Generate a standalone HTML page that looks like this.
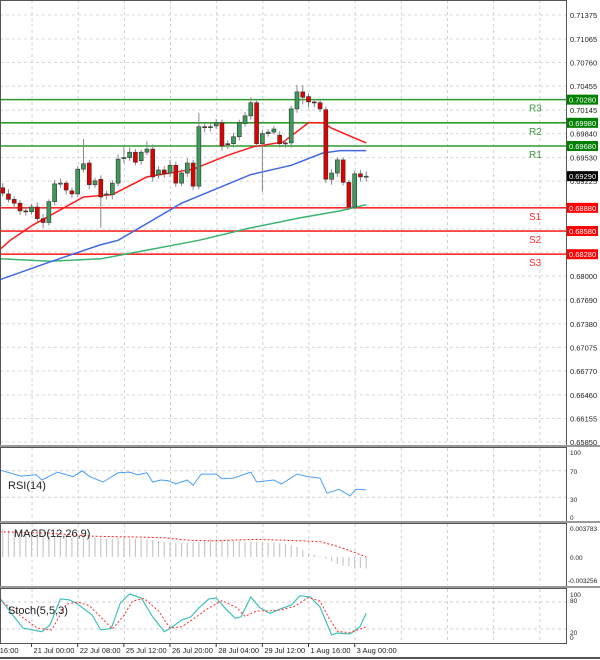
<!DOCTYPE html>
<html><head><meta charset="utf-8"><style>
html,body{margin:0;padding:0;background:#fff}
svg{display:block;font-family:"Liberation Sans",sans-serif}
</style></head><body>
<svg id="c" width="600" height="660" xmlns="http://www.w3.org/2000/svg"></svg>
<script>
const opens=[.6914,.6906,.6899,.6894,.6884,.6883,.6889,.6874,.6869,.6896,.6919,.6920,.6910,.6906,.6938,.6946,.6918,.6925,.6905,.6905,.6920,.6952,.6953,.6960,.6949,.6960,.6964,.6931,.6937,.6933,.6943,.6920,.6933,.6946,.6916,.6993,.6992,.6994,.6998,.6971,.6971,.6980,.6997,.7007,.7024,.6971,.6984,.6986,.6982,.6972,.6972,.7016,.7038,.7032,.7025,.7024,.7015,.6925,.6933,.6950,.6921,.6889,.6932,.6929];
const closes=[.6907,.6899,.6894,.6884,.6883,.6889,.6874,.6869,.6896,.6919,.6920,.6911,.6906,.6938,.6945,.6918,.6923,.6902,.6906,.6920,.6951,.6953,.6960,.6947,.6960,.6964,.6928,.6937,.6932,.6943,.6920,.6933,.6946,.6916,.6993,.6992,.6993,.6998,.6968,.6970,.6980,.6998,.7007,.7024,.6971,.6984,.6986,.6990,.6971,.6971,.7016,.7038,.7031,.7025,.7024,.7016,.6925,.6933,.6950,.6921,.6889,.6932,.6928,.6929];
const highs=[.6920,.6912,.6903,.6898,.6889,.6893,.6895,.6880,.6899,.6924,.6926,.6923,.6914,.6942,.6977,.6950,.6927,.6930,.6910,.6924,.6957,.6967,.6966,.6964,.6963,.6974,.6970,.6942,.6942,.6950,.6948,.6938,.6952,.6950,.7011,.6998,.6998,.7003,.7002,.6975,.6985,.7002,.7012,.7031,.7028,.6989,.6990,.6994,.6987,.6976,.7020,.7047,.7047,.7036,.7029,.7028,.7019,.6938,.6953,.6953,.6924,.6936,.6937,.6935];
const lows=[.6903,.6895,.6888,.6879,.6878,.6879,.6870,.6862,.6865,.6892,.6914,.6905,.6901,.6902,.6934,.6912,.6914,.6862,.6899,.6899,.6916,.6946,.6949,.6943,.6944,.6956,.6922,.6926,.6927,.6928,.6915,.6916,.6928,.6911,.6912,.6986,.6987,.6990,.6962,.6964,.6966,.6975,.6993,.7002,.6966,.6909,.6980,.6983,.6966,.6966,.6966,.7011,.7022,.7018,.7018,.7012,.6920,.6918,.6928,.6917,.6885,.6886,.6922,.6922];
const maRedIdx=[-0.5,1.3,5.3,14,19,25,33,39,43.4,48.6,53,55.5,57,63];
const maRedVal=[.6834,.6846,.6866,.6902,.6905,.6928,.6938,.6956,.6967,.6973,.6998,.6998,.6991,.6972];
const maBlueIdx=[-0.5,8.2,16.9,20,31,43,50,55.5,58.5,63];
const maBlueVal=[.6795,.6818,.6840,.6846,.6894,.6931,.6943,.6959,.6962,.6962];
const maGreenIdx=[-0.5,8.2,17,25.5,34,43,51.5,58.5,63];
const maGreenVal=[.6822,.6819,.6822,.6834,.6846,.6862,.6875,.6884,.6892];
const levelNames=["R3","R2","R1","S1","S2","S3"];
const levelVals=[.7028,.6998,.6968,.6888,.6858,.6828];
const levelLabels=["0.70280","0.69980","0.69680","0.68880","0.68580","0.68280"];
const priceTicks=[.71375,.71065,.70760,.70455,.70145,.69840,.69530,.69225,.68915,.68610,.68305,.68000,.67690,.67380,.67075,.66770,.66460,.66155,.65850];
const priceTickLabels=["0.71375","0.71065","0.70760","0.70455","0.70145","0.69840","0.69530","0.69225","0.68915","0.68610","0.68305","0.68000","0.67690","0.67380","0.67075","0.66770","0.66460","0.66155","0.65850"];
const timeLabels=["21 Jul 00:00","22 Jul 08:00","25 Jul 12:00","26 Jul 20:00","28 Jul 04:00","29 Jul 12:00","1 Aug 16:00","3 Aug 00:00"];
const timeIdx=[5,13,21,29,37,45,53,61];
const rsiIdx=[-0.5,3.2,5.8,6.8,9.5,12.2,13.8,15.1,17.4,20,22,23.4,25,26,27.4,28.7,30,32,33,34.4,37,38,40,43,44,47,48.3,51,53,55,56.2,58.3,60.2,61.2,63];
const rsiVal=[71,62,64,56,68,61,70,61,53,67,68,64,67,53,56,55,50,56,48,65,65,58,59,68,53,56,50,65,61,59,36,42,32,42,41];
const macdHist=[.0036,.0035,.0034,.0033,.0032,.0031,.0030,.0029,.0028,.0027,.0027,.0026,.0026,.0026,.0026,.0027,.0026,.0025,.0024,.0024,.0025,.0025,.0024,.0024,.0023,.0023,.0022,.0021,.0020,.0019,.0018,.0018,.0019,.0019,.0020,.0022,.0023,.0023,.0022,.0022,.0021,.0021,.0020,.0020,.0020,.0019,.0019,.0019,.0018,.0017,.0015,.0013,.0009,.0005,.0003,.0001,-.0002,-.0006,-.0009,-.0011,-.0012,-.0014,-.0014,-.0015];
const sigIdx=[-0.5,8,16,24,28,32,36,40,44,48,52,55,58,61,63];
const sigVal=[.0033,.0031,.0027,.0026,.0025,.0022,.0021,.0022,.0023,.0022,.0021,.0020,.0014,.0006,.0000];
const stIdx=[-0.5,1.5,3.5,6.8,8.2,10,11.5,12.8,15.5,17,18.8,20.4,22,24,26,28,29.3,31,32.6,34,35.7,37,38.7,40.3,41.3,43,44.6,46.3,48,50,51.5,53.3,55,57,58,60.2,61.9,63];
const stVal=[89,55,22,14,29,87,85,77,51,18,21,78,98,89,47,14,24,40,47,67,87,89,64,44,47,91,67,55,64,73,94,91,69,7,11,9,25,55];
const sdIdx=[-0.5,3,6,8.5,11,13,15,17.5,19,21,22.5,24.5,27,29,31,33,35.5,38,40.5,42,44,46,48.5,50.5,53,55,56.5,58,60,62,63];
const sdVal=[85,50,22,18,75,80,72,40,20,50,82,88,60,22,25,42,65,83,68,48,60,60,63,70,90,82,45,15,12,20,25];

const svg=document.getElementById('c');
const NS="http://www.w3.org/2000/svg";
function mk(tag,attrs,parent){const e=document.createElementNS(NS,tag);for(const k in attrs)e.setAttribute(k,attrs[k]);(parent||svg).appendChild(e);return e;}
const AX=566;
const xOf=i=>2.7+i*5.77;
const yP=p=>15+(0.71375-p)*7729;
const yR=v=>517-v*0.66;
const yM=v=>557-v*7666;
const yS=v=>638-v*0.45;

// grid
for(let k=-1;k<12;k++){const x=xOf(5+8*k)+0.5;if(x<0||x>AX)continue;
 [[0,444],[448,520],[524,585],[589,642]].forEach(r=>{const l=mk('line',{x1:x,x2:x,y1:r[0],y2:r[1],stroke:'#d0d0d0','stroke-dasharray':'3,3','stroke-width':1});
 });}
priceTicks.forEach(p=>{const y=yP(p);const l=mk('line',{x1:0,x2:AX,y1:y,y2:y,stroke:'#d8d8d8','stroke-dasharray':'3,3'});
 
 const t=mk('text',{x:570,y:y+3,'font-size':7.5,fill:'#222'});t.textContent=priceTickLabels[priceTicks.indexOf(p)];
 });
[70,30].forEach(v=>{const l=mk('line',{x1:0,x2:AX,y1:yR(v),y2:yR(v),stroke:'#d0d0d0','stroke-dasharray':'3,3'});});
[80,20].forEach(v=>{const l=mk('line',{x1:0,x2:AX,y1:yS(v),y2:yS(v),stroke:'#d0d0d0','stroke-dasharray':'3,3'});});

// level lines
levelVals.forEach((v,i)=>{const y=yP(v);const res=i<3;const col=res?'#2e9a2e':'#ff2a2a';
 const l=mk('line',{x1:0,x2:AX,y1:y,y2:y,stroke:col,'stroke-width':1.6});
 
 const t=mk('text',{x:529,y:y+12,'font-size':10,fill:res?'#3a9a3a':'#ff3030'});t.textContent=levelNames[i];
 });

// MAs
function poly(ix,vals,fy,col,w,dash,name){let d='';ix.forEach((k,j)=>{d+=(j?'L':'M')+xOf(k).toFixed(1)+','+fy(vals[j]).toFixed(1);});
 const p=mk('path',{d:d,fill:'none',stroke:col,'stroke-width':w});if(dash)p.setAttribute('stroke-dasharray',dash);
 return p;}
poly(maGreenIdx,maGreenVal,yP,'#3cb371',1.5,null,'ma-slow-green');
poly(maBlueIdx,maBlueVal,yP,'#4169e1',1.5,null,'ma-medium-blue');
poly(maRedIdx,maRedVal,yP,'#ff1a1a',1.5,null,'ma-fast-red');

// candles
opens.forEach((o,i)=>{const c=closes[i];const x=xOf(i);const up=c>=o;
 const w=mk('line',{x1:x,x2:x,y1:yP(highs[i]),y2:yP(lows[i]),stroke:'#888','stroke-width':1});
 
 const t=yP(Math.max(o,c)),b=yP(Math.min(o,c));
 const r=mk('rect',{x:x-2,y:t,width:4,height:Math.max(1,b-t),fill:up?'#3c9a5a':'#e00000',stroke:'#333','stroke-width':0.6});
 });

// level price boxes
levelVals.forEach((v,i)=>{const y=yP(v);const res=i<3;
 const r=mk('rect',{x:567,y:y-5,width:31,height:10,fill:res?'#008000':'#ff0000'});
 
 const t=mk('text',{x:569,y:y+3,'font-size':7.5,fill:'#fff'});t.textContent=levelLabels[i];
 });
{const y=yP(closes[closes.length-1]);const r=mk('rect',{x:567,y:y-5,width:31,height:10,fill:'#000'});
 
 const t=mk('text',{x:569,y:y+3,'font-size':7.5,fill:'#fff'});t.textContent=closes[closes.length-1].toFixed(4)+'0';
 }

// RSI
poly(rsiIdx,rsiVal,yR,'#4a9ff5',1,null,'rsi-line');
// MACD
macdHist.forEach((v,i)=>{const x=xOf(i);const l=mk('line',{x1:x,x2:x,y1:yM(0),y2:yM(v),stroke:'#c8c8c8','stroke-width':1.2});
 });
poly(sigIdx,sigVal,yM,'#ff2020',1,'2,2','macd-signal-line');
// Stoch
poly(stIdx,stVal,yS,'#40c0b8',1.2,null,'stoch-main-line');
poly(sdIdx,sdVal,yS,'#ff3030',1,'2,2','stoch-signal-line');

// indicator labels
[["RSI(14)",8,489,'rsi-title'],["MACD(12,26,9)",14,537,'macd-title'],["Stoch(5,5,3)",8,614,'stoch-title']].forEach(a=>{
 const t=mk('text',{x:a[1],y:a[2],'font-size':11,fill:'#222'});t.textContent=a[0];});
[["100",570,455],["70",570,474],["30",570,502],["0",570,520],["0.003783",570,531],["0.00",570,560],["-0.003256",568,583],["100",570,597],["80",570,603],["20",570,635],["0",570,640]].forEach(a=>{
 const t=mk('text',{x:a[1],y:a[2],'font-size':6.5,fill:'#222'});t.textContent=a[0];});

// panel borders
[[0,0,AX,445],[0,447,AX,521],[0,523,AX,586],[0,588,AX,643]].forEach(r=>{const e=mk('rect',{x:r[0]+0.5,y:r[1]+0.5,width:r[2]-r[0],height:r[3]-r[1],fill:'none',stroke:'#555','stroke-width':1});
 });
[445,521,586].forEach(y=>{const l=mk('line',{x1:0,x2:600,y1:y+1,y2:y+1,stroke:'#999','stroke-width':2});});
// time axis
{const t=mk('text',{x:-4,y:653,'font-size':7.5,fill:'#222'});t.textContent='l 16:00';}
timeLabels.forEach((s,i)=>{const x=xOf(timeIdx[i]);
 const tk=mk('line',{x1:x,x2:x,y1:643,y2:647,stroke:'#333'});
 const t=mk('text',{x:x+2,y:653,'font-size':7.5,fill:'#222'});t.textContent=s;});
{const l=mk('line',{x1:0,x2:600,y1:658,y2:658,stroke:'#555','stroke-width':2});}
</script>
</body></html>
